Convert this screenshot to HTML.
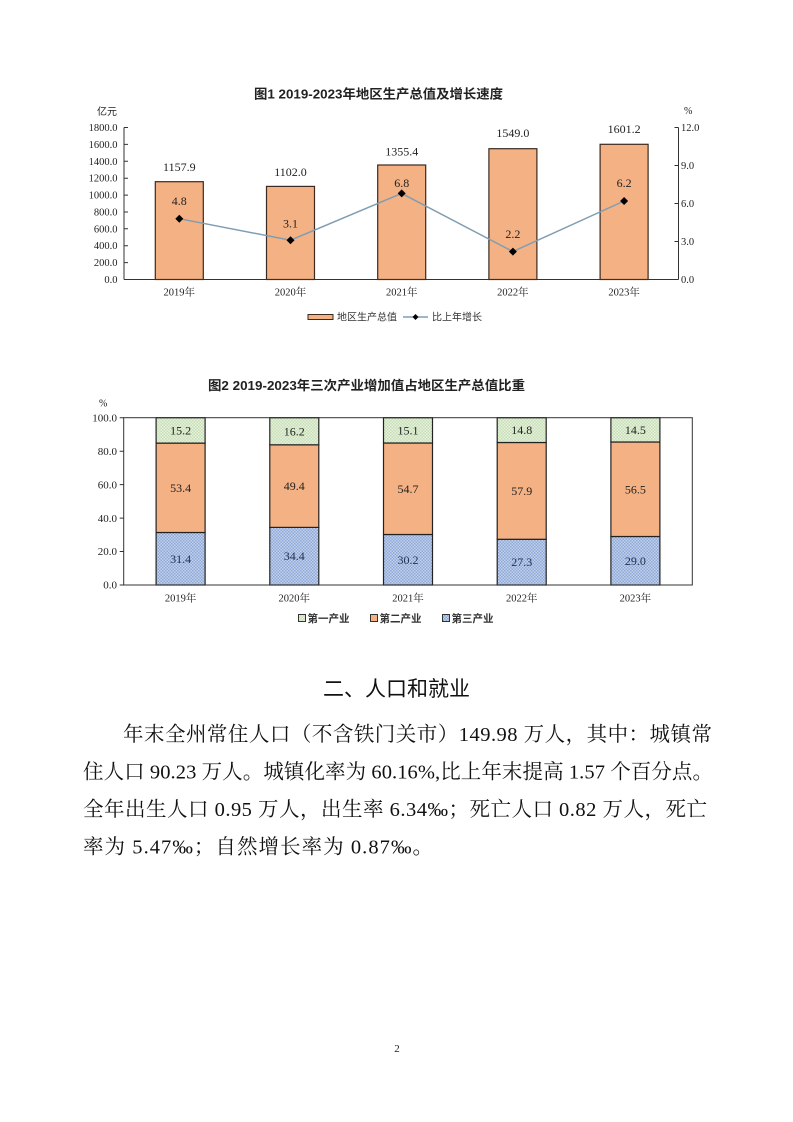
<!DOCTYPE html>
<html><head><meta charset="utf-8"><style>
html,body{margin:0;padding:0;background:#fff;}
svg{display:block;}
.ser{font-family:"Liberation Serif","Noto Serif CJK SC",serif;}
.sans{font-family:"Liberation Sans","Noto Sans CJK SC",sans-serif;}
</style></head><body>
<svg width="793" height="1122" viewBox="0 0 793 1122" xmlns="http://www.w3.org/2000/svg">
<defs>
<pattern id="pb" width="3" height="3" patternUnits="userSpaceOnUse">
<rect width="3" height="3" fill="#c3d2ec"/><rect width="1.5" height="1.5" fill="#8ea8d6"/><rect x="1.5" y="1.5" width="1.5" height="1.5" fill="#8ea8d6"/>
</pattern>
<pattern id="pg" width="3" height="3" patternUnits="userSpaceOnUse">
<rect width="3" height="3" fill="#e6f1dd"/><rect width="1.5" height="1.5" fill="#c8e0b6"/><rect x="1.5" y="1.5" width="1.5" height="1.5" fill="#c8e0b6"/>
</pattern>
</defs>
<rect width="793" height="1122" fill="#fff"/>

<!-- ===== Chart 1 ===== -->
<text class="sans" x="254" y="98.5" font-size="13" font-weight="bold" fill="#222" textLength="249" lengthAdjust="spacingAndGlyphs">图1  2019-2023年地区生产总值及增长速度</text>
<text class="sans" x="97" y="115" font-size="10" fill="#222">亿元</text>
<text class="ser" x="684" y="114" font-size="10" fill="#222">%</text>

<g class="ser" font-size="10.5" fill="#222" text-anchor="end">
<text x="117.5" y="283">0.0</text>
<text x="117.5" y="266.1">200.0</text>
<text x="117.5" y="249.2">400.0</text>
<text x="117.5" y="232.3">600.0</text>
<text x="117.5" y="215.5">800.0</text>
<text x="117.5" y="198.6">1000.0</text>
<text x="117.5" y="181.7">1200.0</text>
<text x="117.5" y="164.8">1400.0</text>
<text x="117.5" y="147.9">1600.0</text>
<text x="117.5" y="131">1800.0</text>
</g>
<g class="ser" font-size="10.5" fill="#222">
<text x="681" y="283">0.0</text>
<text x="681" y="245">3.0</text>
<text x="681" y="207">6.0</text>
<text x="681" y="169">9.0</text>
<text x="681" y="131">12.0</text>
</g>

<g fill="#f4b183" stroke="#3a2a20" stroke-width="1.2">
<rect x="155.3" y="181.7" width="48" height="97.8"/>
<rect x="266.5" y="186.4" width="48" height="93.1"/>
<rect x="377.7" y="165.0" width="48" height="114.5"/>
<rect x="488.9" y="148.7" width="48" height="130.8"/>
<rect x="600.1" y="144.3" width="48" height="135.2"/>
</g>

<g stroke="#333" stroke-width="1" fill="none">
<line x1="124" y1="127.5" x2="124" y2="279.5"/>
<line x1="124" y1="279.5" x2="678.5" y2="279.5"/>
<line x1="678.5" y1="127.5" x2="678.5" y2="279.5"/>
<path d="M124 127.5h4M124 144.4h4M124 161.3h4M124 178.2h4M124 195.1h4M124 212h4M124 228.8h4M124 245.7h4M124 262.6h4"/>
<path d="M678.5 127.5h-4M678.5 165.5h-4M678.5 203.5h-4M678.5 241.5h-4"/>
</g>

<polyline points="179.3,218.7 290.5,240.2 401.7,193.4 512.9,251.6 624.1,201.0" fill="none" stroke="#7f9db3" stroke-width="1.5"/>
<g fill="#000">
<path d="M179.3 214.7l4 4-4 4-4-4z"/>
<path d="M290.5 236.2l4 4-4 4-4-4z"/>
<path d="M401.7 189.4l4 4-4 4-4-4z"/>
<path d="M512.9 247.6l4 4-4 4-4-4z"/>
<path d="M624.1 197.0l4 4-4 4-4-4z"/>
</g>

<g class="ser" font-size="12" fill="#222" text-anchor="middle">
<text x="179.3" y="171">1157.9</text>
<text x="290.5" y="176">1102.0</text>
<text x="401.7" y="155.5">1355.4</text>
<text x="512.9" y="137">1549.0</text>
<text x="624.1" y="133">1601.2</text>
<text x="179.3" y="205">4.8</text>
<text x="290.5" y="227.5">3.1</text>
<text x="401.7" y="187">6.8</text>
<text x="512.9" y="238">2.2</text>
<text x="624.1" y="187">6.2</text>
</g>
<g class="ser" font-size="10.5" fill="#222" text-anchor="middle">
<text x="179.3" y="295.5">2019年</text>
<text x="290.5" y="295.5">2020年</text>
<text x="401.7" y="295.5">2021年</text>
<text x="512.9" y="295.5">2022年</text>
<text x="624.1" y="295.5">2023年</text>
</g>

<rect x="308" y="314.5" width="25" height="5" fill="#f4b183" stroke="#3a2a20" stroke-width="1"/>
<text class="sans" x="337" y="320.5" font-size="10" fill="#333">地区生产总值</text>
<line x1="403" y1="317" x2="428" y2="317" stroke="#7f9db3" stroke-width="1.5"/>
<path d="M415.5 314l3 3-3 3-3-3z" fill="#000"/>
<text class="sans" x="432" y="320.5" font-size="10" fill="#333">比上年增长</text>

<!-- ===== Chart 2 ===== -->
<text class="sans" x="208" y="390" font-size="13" font-weight="bold" fill="#222" textLength="317" lengthAdjust="spacingAndGlyphs">图2  2019-2023年三次产业增加值占地区生产总值比重</text>
<text class="ser" x="99" y="406.5" font-size="10" fill="#222">%</text>

<g class="ser" font-size="11" fill="#222" text-anchor="end">
<text x="117" y="588.7">0.0</text>
<text x="117" y="555.2">20.0</text>
<text x="117" y="521.8">40.0</text>
<text x="117" y="488.3">60.0</text>
<text x="117" y="454.9">80.0</text>
<text x="117" y="421.4">100.0</text>
</g>

<g stroke="#222" stroke-width="1.2">
<rect x="156.1" y="532.5" width="49" height="52.5" fill="url(#pb)"/>
<rect x="156.1" y="443.1" width="49" height="89.4" fill="#f4b183"/>
<rect x="156.1" y="417.7" width="49" height="25.4" fill="url(#pg)"/>
<rect x="269.8" y="527.4" width="49" height="57.6" fill="url(#pb)"/>
<rect x="269.8" y="444.8" width="49" height="82.6" fill="#f4b183"/>
<rect x="269.8" y="417.7" width="49" height="27.1" fill="url(#pg)"/>
<rect x="383.5" y="534.5" width="49" height="50.5" fill="url(#pb)"/>
<rect x="383.5" y="443.0" width="49" height="91.5" fill="#f4b183"/>
<rect x="383.5" y="417.7" width="49" height="25.3" fill="url(#pg)"/>
<rect x="497.2" y="539.3" width="49" height="45.7" fill="url(#pb)"/>
<rect x="497.2" y="442.5" width="49" height="96.8" fill="#f4b183"/>
<rect x="497.2" y="417.7" width="49" height="24.8" fill="url(#pg)"/>
<rect x="610.9" y="536.5" width="49" height="48.5" fill="url(#pb)"/>
<rect x="610.9" y="442.0" width="49" height="94.5" fill="#f4b183"/>
<rect x="610.9" y="417.7" width="49" height="24.3" fill="url(#pg)"/>
</g>

<rect x="123.7" y="417.7" width="568.6" height="167.3" fill="none" stroke="#333" stroke-width="1"/>
<path d="M123.7 451.2h-4M123.7 484.6h-4M123.7 518.1h-4M123.7 551.5h-4M123.7 585h-4M123.7 417.7h-4" stroke="#333" stroke-width="1"/>

<g class="ser" font-size="12" text-anchor="middle" fill="#222">
<text x="180.6" y="434.5">15.2</text>
<text x="294.3" y="435.3">16.2</text>
<text x="408" y="434.4">15.1</text>
<text x="521.7" y="434.1">14.8</text>
<text x="635.4" y="433.9">14.5</text>
<text x="180.6" y="491.8">53.4</text>
<text x="294.3" y="490.1">49.4</text>
<text x="408" y="492.8">54.7</text>
<text x="521.7" y="494.9">57.9</text>
<text x="635.4" y="493.3">56.5</text>
</g>
<g class="ser" font-size="12" text-anchor="middle" fill="#1f3050">
<text x="180.6" y="562.8">31.4</text>
<text x="294.3" y="560.2">34.4</text>
<text x="408" y="563.8">30.2</text>
<text x="521.7" y="566.2">27.3</text>
<text x="635.4" y="564.8">29.0</text>
</g>
<g class="ser" font-size="10.5" fill="#222" text-anchor="middle">
<text x="180.6" y="601.5">2019年</text>
<text x="294.3" y="601.5">2020年</text>
<text x="408" y="601.5">2021年</text>
<text x="521.7" y="601.5">2022年</text>
<text x="635.4" y="601.5">2023年</text>
</g>

<rect x="298.5" y="614.5" width="7" height="7" fill="url(#pg)" stroke="#333" stroke-width="1"/>
<text class="sans" x="307.5" y="622" font-size="10.5" font-weight="bold" fill="#333">第一产业</text>
<rect x="370.5" y="614.5" width="7" height="7" fill="#f4b183" stroke="#333" stroke-width="1"/>
<text class="sans" x="379.5" y="622" font-size="10.5" font-weight="bold" fill="#333">第二产业</text>
<rect x="442.5" y="614.5" width="7" height="7" fill="url(#pb)" stroke="#333" stroke-width="1"/>
<text class="sans" x="451.5" y="622" font-size="10.5" font-weight="bold" fill="#333">第三产业</text>

<text class="sans" x="323" y="696" font-size="21" fill="#111" textLength="147" lengthAdjust="spacingAndGlyphs">二、人口和就业</text>

<g font-family="'Liberation Serif','Noto Serif CJK SC','Noto Serif CJK JP',serif" font-size="20.5" fill="#111">
<text x="123" y="741" textLength="589" lengthAdjust="spacing">年末全州常住人口（不含铁门关市）149.98 万人，其中：城镇常</text>
<text x="83" y="778.5" textLength="630" lengthAdjust="spacing">住人口 90.23 万人。城镇化率为 60.16%,比上年末提高 1.57 个百分点。</text>
<text x="83" y="816" textLength="624" lengthAdjust="spacing">全年出生人口 0.95 万人，出生率 6.34‰；死亡人口 0.82 万人，死亡</text>
<text x="83" y="853.5" textLength="350" lengthAdjust="spacing">率为 5.47‰；自然增长率为 0.87‰。</text>
</g>

<text class="ser" x="397" y="1052" font-size="11" fill="#222" text-anchor="middle">2</text>
</svg>
</body></html>
